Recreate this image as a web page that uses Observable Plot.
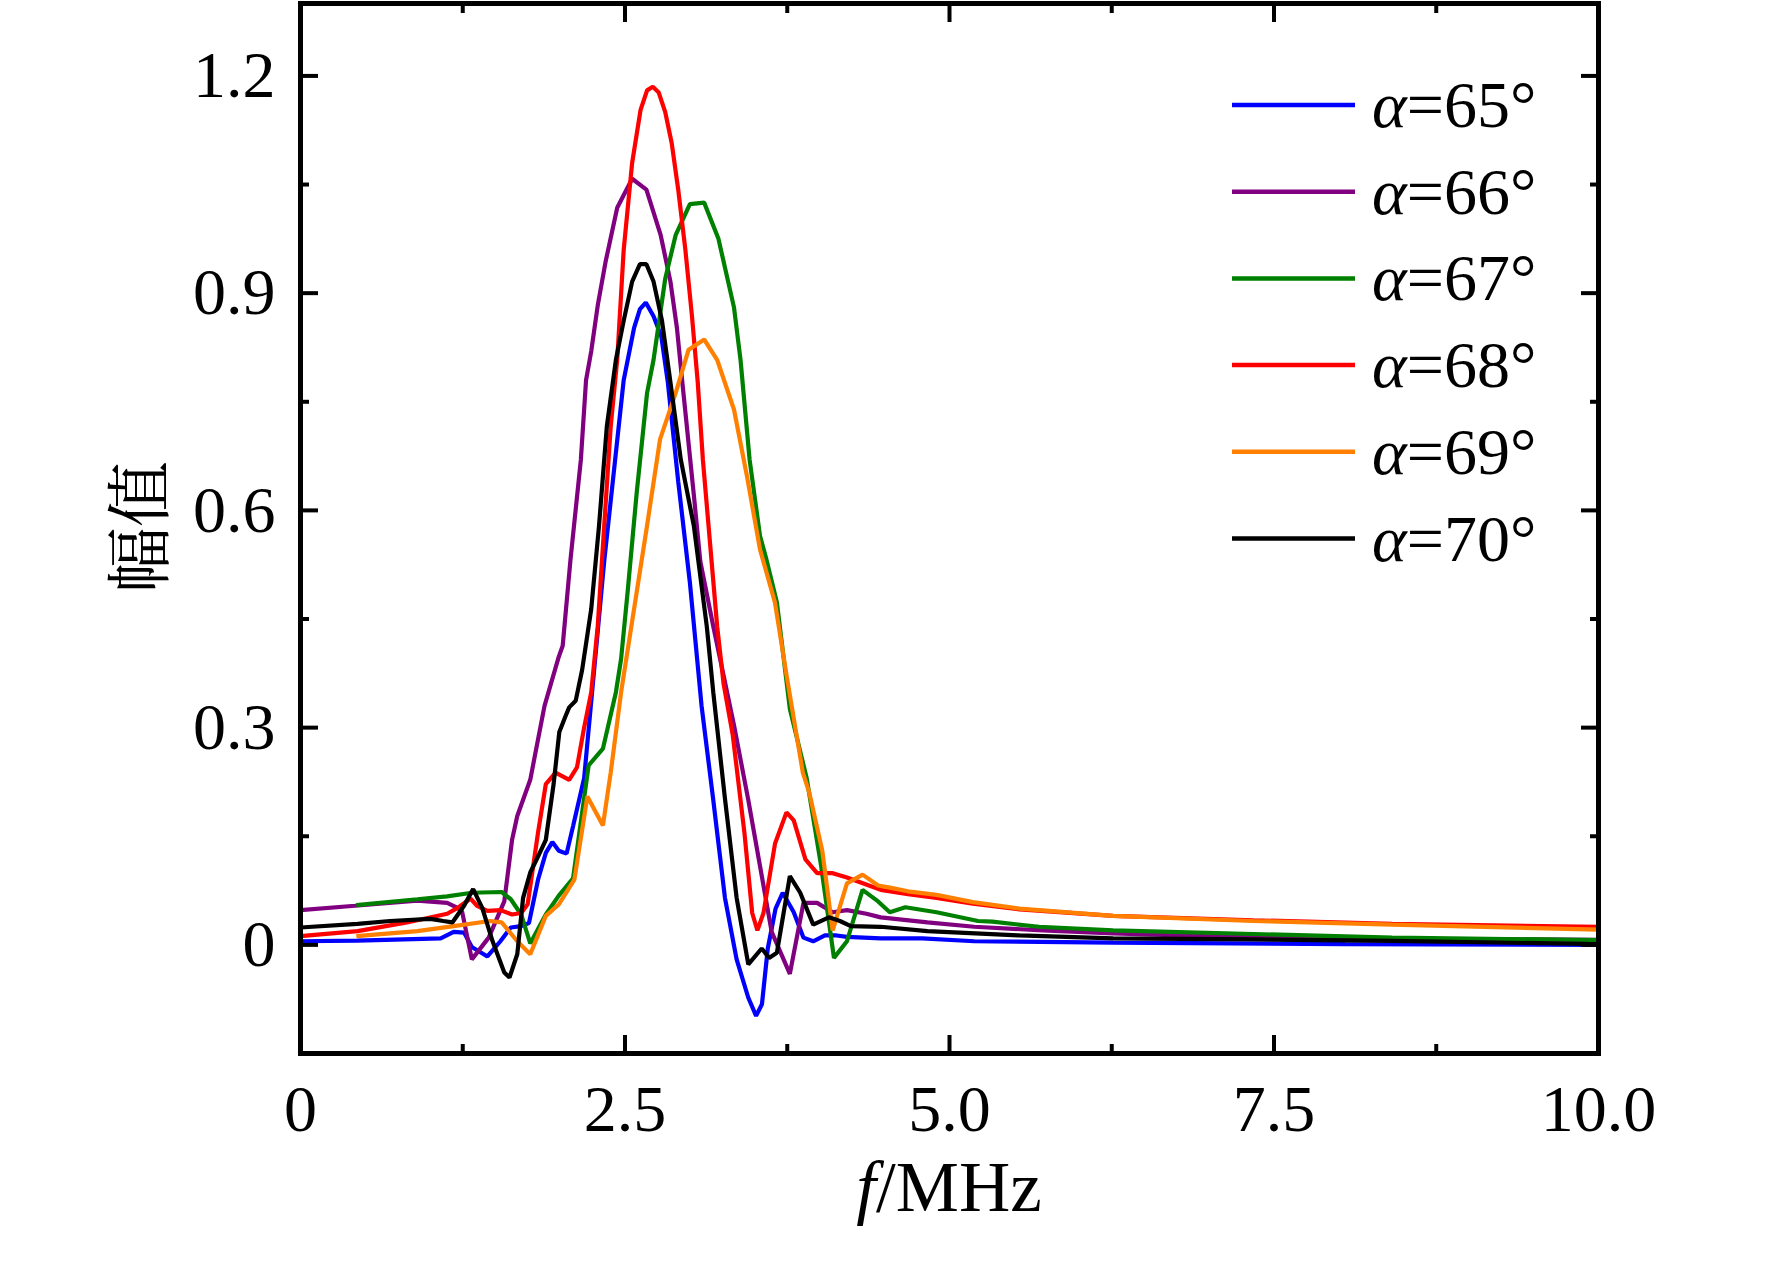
<!DOCTYPE html>
<html><head><meta charset="utf-8">
<script src="https://cdn.jsdelivr.net/npm/d3@7"></script>
<script src="https://cdn.jsdelivr.net/npm/@observablehq/plot@0.6"></script>
<style>html,body{margin:0;padding:0;background:#fff;} #chart{width:1772px;height:1273px;}</style>
</head><body><div id="chart"></div>
<script>
// ---- data ----
const seriesAngles = ["65", "66", "67", "68", "69", "70"];
const seriesColors = ["#0000FF", "#800080", "#008000", "#FF0000", "#FF8000", "#000000"];

const f65 = [0,0.44,1.08,1.18,1.26,1.32,1.44,1.54,1.62,1.70,1.76,1.83,1.89,1.94,1.99,2.05,2.10,2.185,2.34,2.49,2.57,2.615,2.66,2.72,2.78,2.83,2.91,3.0,3.09,3.18,3.27,3.36,3.45,3.51,3.555,3.60,3.66,3.715,3.80,3.875,3.95,4.04,4.13,4.21,4.47,4.79,5.19,6.26,8.05,10];
const a65 = [0.005,0.006,0.009,0.018,0.017,-0.003,-0.016,0.005,0.024,0.026,0.03,0.09,0.127,0.142,0.13,0.126,0.164,0.23,0.53,0.78,0.852,0.878,0.887,0.868,0.84,0.777,0.64,0.5,0.33,0.2,0.065,-0.02,-0.073,-0.098,-0.082,-0.005,0.05,0.072,0.045,0.01,0.005,0.013,0.013,0.011,0.009,0.009,0.005,0.003,0.001,0.0];

const f66 = [0,0.42,0.90,1.13,1.21,1.245,1.32,1.45,1.57,1.63,1.67,1.77,1.88,1.99,2.02,2.08,2.16,2.20,2.24,2.29,2.35,2.44,2.555,2.665,2.775,2.85,2.90,2.94,3.03,3.08,3.18,3.34,3.45,3.63,3.77,3.875,3.98,4.10,4.21,4.36,4.47,4.83,5.19,5.72,6.26,6.98,7.70,8.8,10];
const a66 = [0.048,0.054,0.061,0.058,0.051,0.046,-0.02,0.01,0.06,0.145,0.178,0.228,0.33,0.398,0.413,0.532,0.67,0.78,0.82,0.883,0.943,1.018,1.058,1.043,0.98,0.916,0.852,0.78,0.622,0.53,0.44,0.303,0.2,0.018,-0.04,0.058,0.058,0.045,0.048,0.043,0.038,0.031,0.025,0.02,0.016,0.012,0.01,0.008,0.007];

const f67 = [0.43,0.90,1.13,1.32,1.55,1.62,1.70,1.77,1.89,1.99,2.10,2.22,2.33,2.43,2.47,2.52,2.59,2.67,2.72,2.81,2.89,3.00,3.11,3.22,3.34,3.39,3.46,3.54,3.59,3.67,3.77,3.90,4.01,4.11,4.21,4.33,4.45,4.54,4.66,4.90,5.22,5.33,5.69,6.26,7.34,8.41,10];
const a67 = [0.055,0.063,0.067,0.072,0.073,0.063,0.042,0.002,0.042,0.068,0.092,0.248,0.271,0.349,0.395,0.487,0.624,0.762,0.808,0.92,0.98,1.023,1.025,0.975,0.88,0.808,0.67,0.565,0.532,0.473,0.326,0.23,0.11,-0.018,0.005,0.076,0.06,0.045,0.052,0.045,0.033,0.032,0.025,0.02,0.015,0.01,0.0066];

const f68 = [0,0.44,0.82,1.13,1.21,1.31,1.36,1.44,1.54,1.63,1.70,1.75,1.83,1.89,1.965,2.07,2.13,2.185,2.24,2.29,2.34,2.39,2.44,2.49,2.555,2.62,2.67,2.714,2.76,2.81,2.86,2.91,2.965,3.015,3.06,3.10,3.155,3.21,3.26,3.33,3.42,3.48,3.52,3.567,3.656,3.744,3.80,3.89,3.98,4.10,4.21,4.47,4.68,4.90,5.18,5.54,6.26,7.34,8.41,10];
const a68 = [0.012,0.019,0.031,0.043,0.051,0.064,0.054,0.047,0.048,0.042,0.044,0.056,0.155,0.222,0.238,0.228,0.245,0.3,0.349,0.44,0.579,0.716,0.808,0.96,1.08,1.153,1.18,1.185,1.177,1.15,1.107,1.043,0.96,0.87,0.778,0.67,0.555,0.44,0.36,0.29,0.155,0.044,0.02,0.044,0.14,0.183,0.172,0.118,0.099,0.099,0.093,0.076,0.07,0.065,0.057,0.049,0.04,0.034,0.029,0.025];

const f69 = [0.43,0.90,1.18,1.46,1.55,1.67,1.77,1.89,1.99,2.11,2.21,2.33,2.39,2.47,2.57,2.67,2.77,2.89,2.99,3.11,3.21,3.34,3.44,3.54,3.655,3.745,3.87,3.92,4.02,4.10,4.21,4.33,4.45,4.54,4.68,4.90,5.18,5.54,6.26,7.34,8.41,10];
const a69 = [0.012,0.019,0.026,0.033,0.031,0.005,-0.013,0.04,0.056,0.09,0.205,0.165,0.238,0.349,0.464,0.579,0.698,0.762,0.822,0.836,0.808,0.739,0.647,0.546,0.473,0.372,0.238,0.21,0.13,0.02,0.085,0.097,0.082,0.079,0.074,0.069,0.059,0.05,0.04,0.033,0.028,0.021];

const f70 = [0,0.44,0.69,1.0,1.10,1.17,1.26,1.33,1.40,1.48,1.57,1.61,1.67,1.715,1.77,1.83,1.89,1.95,1.994,2.04,2.07,2.12,2.17,2.24,2.30,2.36,2.43,2.49,2.555,2.615,2.665,2.72,2.785,2.85,2.93,3.03,3.13,3.18,3.27,3.36,3.45,3.553,3.61,3.67,3.77,3.85,3.95,4.07,4.156,4.24,4.47,4.83,5.54,6.26,7.34,8.41,10];
const a70 = [0.024,0.029,0.033,0.036,0.033,0.031,0.054,0.077,0.051,0.005,-0.038,-0.045,-0.013,0.065,0.1,0.122,0.145,0.222,0.294,0.315,0.328,0.337,0.38,0.464,0.579,0.716,0.808,0.862,0.916,0.94,0.94,0.916,0.862,0.777,0.67,0.579,0.44,0.349,0.202,0.065,-0.027,-0.005,-0.018,-0.011,0.095,0.072,0.028,0.038,0.033,0.026,0.025,0.019,0.013,0.009,0.0075,0.0056,0.001];

const xMajor = [0, 2.5, 5, 7.5, 10];
const xMinor = [1.25, 3.75, 6.25, 8.75];
const xTickLabels = ["0", "2.5", "5.0", "7.5", "10.0"];
const yMajor = [0, 0.3, 0.6, 0.9, 1.2];
const yMinor = [-0.15, 0.15, 0.45, 0.75, 1.05];
const yTickLabels = ["0", "0.3", "0.6", "0.9", "1.2"];
const xTitleItalic = "f", xTitleRest = "/MHz";
const yTitle = "幅值";

// ---- build table ----
const freqs = [f65, f66, f67, f68, f69, f70];
const amps = [a65, a66, a67, a68, a69, a70];
const rows = [];
seriesAngles.forEach((s, k) => freqs[k].forEach((f, i) => rows.push({s, f, v: amps[k][i]})));

const serif = "'Liberation Serif','Times New Roman',serif";
const FS = 66;
const tw = 4;

const plot = Plot.plot({
  width: 1772, height: 1273,
  marginLeft: 300, marginRight: 174, marginTop: 3, marginBottom: 220,
  x: {domain: [0, 10]},
  y: {domain: [-0.15, 1.3]},
  color: {domain: seriesAngles, range: seriesColors},
  style: {fontFamily: serif, fontSize: FS + "px", background: "white", color: "black"},
  marks: [
    Plot.line(rows, {x: "f", y: "v", z: "s", stroke: "s", strokeWidth: 4.2, strokeLinejoin: "miter", strokeLinecap: "butt"}),
    Plot.axisX({anchor: "bottom", ticks: xMajor, tickSize: -18, strokeWidth: tw, fill: "none", label: null}),
    Plot.axisX({anchor: "bottom", ticks: xMinor, tickSize: -9, strokeWidth: tw, fill: "none", label: null}),
    Plot.axisX({anchor: "top", ticks: xMajor, tickSize: -18, strokeWidth: tw, fill: "none", label: null}),
    Plot.axisX({anchor: "top", ticks: xMinor, tickSize: -9, strokeWidth: tw, fill: "none", label: null}),
    Plot.axisY({anchor: "left", ticks: yMajor, tickSize: -18, strokeWidth: tw, fill: "none", label: null}),
    Plot.axisY({anchor: "left", ticks: yMinor, tickSize: -9, strokeWidth: tw, fill: "none", label: null}),
    Plot.axisY({anchor: "right", ticks: yMajor, tickSize: -18, strokeWidth: tw, fill: "none", label: null}),
    Plot.axisY({anchor: "right", ticks: yMinor, tickSize: -9, strokeWidth: tw, fill: "none", label: null}),
    Plot.axisX({anchor: "bottom", ticks: xMajor, tickSize: 0, tickPadding: 31, fontSize: FS,
      tickFormat: d => xTickLabels[xMajor.indexOf(d)], label: null}),
    Plot.axisY({anchor: "left", ticks: yMajor, tickSize: 0, tickPadding: 25, fontSize: FS,
      tickFormat: d => yTickLabels[yMajor.indexOf(d)], label: null}),
    Plot.frame({strokeWidth: 5})
  ]
});

const svg = d3.select(plot);
// y title
svg.append("text")
  .attr("transform", "translate(134,527) rotate(-90)")
  .attr("text-anchor", "middle").attr("dominant-baseline", "central")
  .attr("font-family", "'Noto Serif CJK SC','Noto Sans CJK SC',sans-serif")
  .attr("font-size", 66).attr("fill", "black").text(yTitle);
// x title
const xt = svg.append("text").attr("x", 949).attr("y", 1211)
  .attr("text-anchor", "middle").attr("font-family", serif).attr("font-size", 71).attr("fill", "black");
xt.append("tspan").attr("font-style", "italic").text(xTitleItalic);
xt.append("tspan").text(xTitleRest);
// legend
const lg = svg.append("g").attr("text-anchor", "start");
seriesAngles.forEach((s, i) => {
  const y = 105 + i * 86.7;
  lg.append("line").attr("x1", 1232).attr("x2", 1355).attr("y1", y).attr("y2", y)
    .attr("stroke", seriesColors[i]).attr("stroke-width", 4.5);
  const t = lg.append("text").attr("x", 1372).attr("y", y + 22).attr("text-anchor", "start")
    .attr("font-family", serif).attr("font-size", FS).attr("fill", "black");
  t.append("tspan").attr("font-style", "italic").text("α");
  t.append("tspan").text("=" + s + "°");
});

document.getElementById("chart").appendChild(plot);
</script>
</body></html>
